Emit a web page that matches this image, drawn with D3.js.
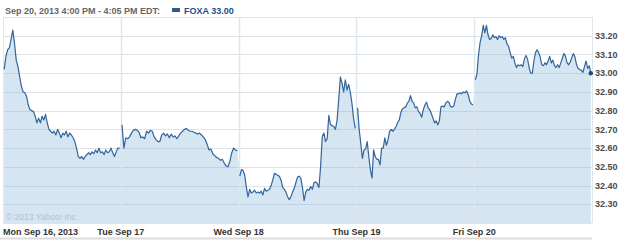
<!DOCTYPE html>
<html>
<head>
<meta charset="utf-8">
<script src="https://cdn.jsdelivr.net/npm/d3@7"></script>
<style>
  body { margin: 0; background: #fff; }
  svg { display: block; font-family: "Liberation Sans", Arial, sans-serif; }
</style>
</head>
<body>
<div id="chart"></div>
<script>
// FOXA intraday, 5 trading days
const dayLabels = ["Mon Sep 16, 2013", "Tue Sep 17", "Wed Sep 18", "Thu Sep 19", "Fri Sep 20"]
const yTicks = [32.3, 32.4, 32.5, 32.6, 32.7, 32.8, 32.9, 33.0, 33.1, 33.2]
const gridValues = [32.2, 32.3, 32.4, 32.5, 32.6, 32.7, 32.8, 32.9, 33.0, 33.1, 33.2, 33.3]

const mon = [33.02, 33.09, 33.125, 33.135, 33.18, 33.23, 33.16, 33.07, 33.035, 32.98, 32.93, 32.90, 32.895, 32.875,
  32.83, 32.805, 32.80, 32.795, 32.77, 32.735, 32.76, 32.735, 32.77, 32.75, 32.78, 32.735, 32.70, 32.69, 32.68,
  32.69, 32.67, 32.70, 32.68, 32.655, 32.68, 32.67, 32.69, 32.66, 32.68, 32.67, 32.655, 32.635, 32.60, 32.555,
  32.545, 32.555, 32.54, 32.555, 32.565, 32.575, 32.565, 32.58, 32.57, 32.59, 32.575, 32.60, 32.575, 32.58,
  32.565, 32.59, 32.575, 32.58, 32.60, 32.575, 32.555, 32.58, 32.60, 32.60]
const tue = [32.725, 32.60, 32.655, 32.65, 32.66, 32.68, 32.695, 32.70, 32.695, 32.685, 32.655, 32.66, 32.65, 32.69,
  32.68, 32.695, 32.69, 32.66, 32.645, 32.635, 32.635, 32.67, 32.68, 32.665, 32.675, 32.655, 32.675, 32.66, 32.665,
  32.65, 32.665, 32.68, 32.69, 32.70, 32.705, 32.695, 32.69, 32.69, 32.685, 32.68, 32.675, 32.68, 32.67, 32.66,
  32.645, 32.62, 32.59, 32.595, 32.57, 32.56, 32.55, 32.545, 32.535, 32.54, 32.52, 32.505, 32.50, 32.53, 32.575,
  32.60, 32.59, 32.585]
const wed = [32.45, 32.485, 32.48, 32.455, 32.39, 32.34, 32.38, 32.36, 32.365, 32.375, 32.36, 32.365, 32.36, 32.37,
  32.35, 32.385, 32.37, 32.375, 32.38, 32.40, 32.43, 32.465, 32.46, 32.455, 32.45, 32.43, 32.39, 32.38, 32.365,
  32.34, 32.325, 32.34, 32.365, 32.385, 32.415, 32.445, 32.45, 32.44, 32.39, 32.32, 32.365, 32.38, 32.375, 32.395,
  32.38, 32.415, 32.42, 32.41, 32.39, 32.50, 32.66, 32.68, 32.635, 32.65, 32.775, 32.725, 32.72, 32.715, 32.70,
  32.75, 32.86, 32.98, 32.945, 32.90, 32.965, 32.91, 32.94, 32.90, 32.84, 32.76, 32.705]
const thu = [32.815, 32.70, 32.625, 32.545, 32.59, 32.595, 32.635, 32.555, 32.485, 32.44, 32.59, 32.555, 32.54, 32.54,
  32.51, 32.60, 32.60, 32.655, 32.615, 32.645, 32.69, 32.70, 32.69, 32.70, 32.715, 32.735, 32.75, 32.79, 32.81,
  32.815, 32.82, 32.84, 32.85, 32.88, 32.85, 32.84, 32.815, 32.82, 32.795, 32.785, 32.765, 32.805, 32.83, 32.845,
  32.815, 32.805, 32.785, 32.76, 32.735, 32.745, 32.725, 32.745, 32.82, 32.825, 32.82, 32.84, 32.85, 32.845, 32.82,
  32.82, 32.825, 32.86, 32.89, 32.89, 32.895, 32.89, 32.90, 32.895, 32.905, 32.885, 32.85, 32.835, 32.83]
const fri = [32.965, 32.995, 33.10, 33.165, 33.20, 33.255, 33.215, 33.255, 33.205, 33.18, 33.185, 33.205, 33.19,
  33.195, 33.18, 33.20, 33.19, 33.195, 33.18, 33.19, 33.155, 33.145, 33.11, 33.08, 33.09, 33.055, 33.03, 33.045,
  33.04, 33.045, 33.035, 33.075, 33.095, 33.075, 33.03, 33.00, 33.00, 33.065, 33.11, 33.125, 33.11, 33.085, 33.045,
  33.04, 33.055, 33.045, 33.065, 33.09, 33.055, 33.07, 33.04, 33.03, 33.045, 33.03, 33.055, 33.08, 33.105, 33.09,
  33.055, 33.045, 33.06, 33.085, 33.105, 33.085, 33.045, 33.025, 33.02, 33.015, 33.005, 33.035, 33.065, 33.025,
  33.04, 33.00]

const series = [mon, tue, wed, thu, fri]
const lastPrice = 33.00

const width = 625, height = 241

// each day gets one unit of the x domain
const points = []
series.forEach((vals, d) => {
  vals.forEach((v, i) => points.push({day: d, t: d + 0.01 + 0.98 * i / (vals.length - 1), v}))
})

const x = d3.scaleLinear().domain([0, 5]).range([3, 592])
const y = d3.scaleLinear().domain([32.2, 33.3]).range([223, 17])

const svg = d3.select("#chart").append("svg")
    .attr("width", width)
    .attr("height", height)

// area under the price line
const area = d3.area()
    .x(d => x(d.t))
    .y0(y(32.2))
    .y1(d => y(d.v))

svg.append("path")
    .datum(points)
    .attr("fill", "#d5e5f2")
    .attr("d", area)

// horizontal grid
svg.append("g")
  .selectAll("line")
  .data(gridValues)
  .join("line")
    .attr("x1", x(0))
    .attr("x2", x(5))
    .attr("y1", d => Math.round(y(d)) + 0.5)
    .attr("y2", d => Math.round(y(d)) + 0.5)
    .attr("stroke", "rgba(140,165,190,0.3)")

// day separators
svg.append("g")
  .selectAll("line")
  .data(d3.range(0, 6))
  .join("line")
    .attr("x1", d => Math.round(x(d)) + 0.5)
    .attr("x2", d => Math.round(x(d)) + 0.5)
    .attr("y1", y(33.3))
    .attr("y2", y(32.2))
    .attr("stroke", "#dfe6ec")
    .attr("stroke-width", d => d === 0 || d === 5 ? 1 : 1.5)

// price line, one path per day
const line = d3.line()
    .x(d => x(d.t))
    .y(d => y(d.v))

svg.append("g")
  .selectAll("path")
  .data(d3.groups(points, d => d.day))
  .join("path")
    .attr("fill", "none")
    .attr("stroke", "#33659a")
    .attr("stroke-width", 1.2)
    .attr("stroke-linejoin", "round")
    .attr("d", ([, pts]) => line(pts))

const last = points[points.length - 1]
svg.append("circle")
    .attr("cx", x(last.t))
    .attr("cy", y(last.v))
    .attr("r", 2.2)
    .attr("fill", "#1f4a7a")

// y labels on the right
svg.append("g")
  .selectAll("text")
  .data(yTicks)
  .join("text")
    .attr("x", 595)
    .attr("y", d => y(d))
    .attr("dy", "0.35em")
    .attr("font-size", 9)
    .attr("font-weight", "bold")
    .attr("fill", "#4a4a4a")
    .text(d => d.toFixed(2))

// day labels
svg.append("g")
  .selectAll("text")
  .data(dayLabels)
  .join("text")
    .attr("x", (d, i) => i === 0 ? x(0) : x(i))
    .attr("y", 235)
    .attr("text-anchor", (d, i) => i === 0 ? "start" : "middle")
    .attr("font-size", 9)
    .attr("font-weight", "bold")
    .attr("fill", "#333")
    .text(d => d)

svg.append("line")
    .attr("x1", 0).attr("x2", 592)
    .attr("y1", 238.5).attr("y2", 238.5)
    .attr("stroke", "#dcdcdc")
    .attr("stroke-width", 2)

svg.append("text")
    .attr("x", 6)
    .attr("y", 220)
    .attr("font-size", 8.5)
    .attr("fill", "#b4c2cf")
    .text("© 2013 Yahoo! Inc.")

// header
svg.append("text")
    .attr("x", 5)
    .attr("y", 13.5)
    .attr("font-size", 9)
    .attr("font-weight", "bold")
    .attr("fill", "#666")
    .text("Sep 20, 2013 4:00 PM - 4:05 PM EDT:")

svg.append("rect")
    .attr("x", 172)
    .attr("y", 8)
    .attr("width", 8)
    .attr("height", 4)
    .attr("fill", "#2a5a8e")

svg.append("text")
    .attr("x", 184)
    .attr("y", 13.5)
    .attr("font-size", 9)
    .attr("font-weight", "bold")
    .attr("fill", "#24508a")
    .text("FOXA " + lastPrice.toFixed(2))
</script>
</body>
</html>
